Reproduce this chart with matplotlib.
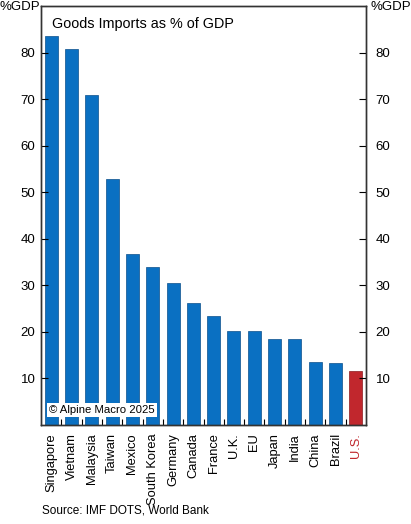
import matplotlib
matplotlib.use("Agg")
import matplotlib.pyplot as plt
import numpy as np

plt.rcParams['font.family'] = ['Liberation Sans', 'DejaVu Sans']

countries = ["Singapore", "Vietnam", "Malaysia", "Taiwan", "Mexico", "South Korea",
             "Germany", "Canada", "France", "U.K.", "EU", "Japan", "India",
             "China", "Brazil", "U.S."]
imports_pct = [83.5, 80.7, 70.8, 52.9, 36.8, 34.0, 30.5, 26.3, 23.5, 20.2,
               20.1, 18.4, 18.4, 13.5, 13.3, 11.7]
yticks = [10, 20, 30, 40, 50, 60, 70, 80]

blue = "#0a70c2"
red = "#c1272d"
colors = [blue] * (len(countries) - 1) + [red]
edges = ["#0b4f8a"] * (len(countries) - 1) + ["#8a1a1e"]

fig = plt.figure(figsize=(4.11, 5.24), dpi=100)
ax = fig.add_axes([0.0998, 0.1889, 0.7907, 0.7996])

x = np.arange(len(countries))
ax.bar(x, imports_pct, width=0.64, color=colors, edgecolor=edges, linewidth=0.5)

ax.set_xlim(-0.5, len(countries) - 0.5)
ax.set_ylim(0, 90)
ax.set_yticks(yticks)
ax.tick_params(axis='y', direction='in', length=5, width=0.8, labelsize=9.5, pad=4)

# right axis copy, label a bit further from the spine
ax2 = ax.twinx()
ax2.set_ylim(0, 90)
ax2.set_yticks(yticks)
ax2.tick_params(axis='y', direction='in', length=5, width=0.8, labelsize=9.5, pad=7)

ax.set_xticks(x)
ax.set_xticklabels(countries, rotation=90, fontsize=9.3)
ax.tick_params(axis='x', length=0, pad=6)
ax.set_xticks(np.arange(len(countries) - 1) + 0.5, minor=True)
ax.tick_params(axis='x', which='minor', direction='in', length=4, width=0.8)
ax.get_xticklabels()[-1].set_color(red)

for a in (ax, ax2):
    for s in a.spines.values():
        s.set_linewidth(1.0)
        s.set_color("#333333")

ax.text(0.035, 0.975, "Goods Imports as % of GDP", transform=ax.transAxes,
        fontsize=10.4, va='top', ha='left')
ax.text(0.025, 0.035, "\u00a9 Alpine Macro 2025", transform=ax.transAxes,
        fontsize=8.2, va='center', ha='left',
        bbox=dict(facecolor='white', edgecolor='none', pad=1.5))

fig.text(0.0, 0.987, "%GDP", fontsize=9.5, va='center', ha='left')
fig.text(1.0, 0.987, "%GDP", fontsize=9.5, va='center', ha='right')
fig.text(0.102, 0.014, "Source: IMF DOTS, World Bank", fontsize=8.5, va='bottom', ha='left')

fig.savefig("out.png", dpi=100)
